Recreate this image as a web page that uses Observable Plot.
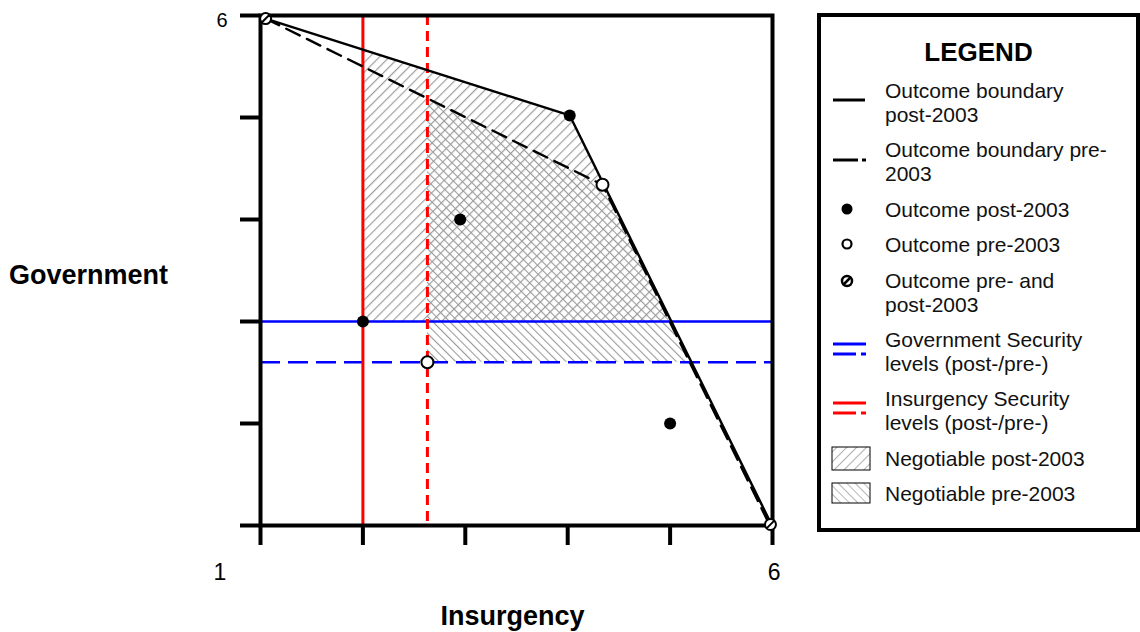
<!DOCTYPE html>
<html>
<head>
<meta charset="utf-8">
<script src="https://cdn.jsdelivr.net/npm/d3@7"></script>
<script src="https://cdn.jsdelivr.net/npm/@observablehq/plot@0.6"></script>
<style>
  html, body { margin: 0; padding: 0; background: white; }
  body { width: 1140px; height: 632px; position: relative; overflow: hidden; font-family: "Liberation Sans", Arial, sans-serif; }
  #chart { position: absolute; left: 0; top: 0; }
  #legend { position: absolute; left: 817px; top: 13px; width: 323px; height: 519px; box-sizing: border-box; border: 4px solid black; background: white; }
  #legend .title { position: absolute; left: 0; width: 100%; top: 20px; text-align: center; font-weight: bold; font-size: 26px; }
  #legend .txt { position: absolute; left: 64px; font-size: 21px; line-height: 23.6px; color: #111; white-space: nowrap; }
  #legend svg.sw { position: absolute; left: 0; top: 0; overflow: visible; }
</style>
</head>
<body>
<div id="chart"></div>
<div id="legend"></div>
<script>
// ---------- data ----------
const xTicks = [1, 2, 3, 4, 5, 6];
const yTicks = [1, 2, 3, 4, 5, 6];
const xTickLabels = ["1", "6"];
const yTickLabels = ["6"];
const xLabel = "Insurgency";
const yLabel = "Government";

// outcome boundaries (Insurgency, Government)
const postBoundaryX = [1.05, 4.02, 5.99];
const postBoundaryY = [5.97, 5.02, 1.01];
const preBoundaryX = [1.05, 4.34, 5.97];
const preBoundaryY = [5.97, 4.34, 1.01];

// outcomes
const postOutcomeX = [2, 2.95, 4.02, 5];
const postOutcomeY = [3, 4.0, 5.02, 2];
const preOutcomeX = [2.63, 4.34];
const preOutcomeY = [2.6, 4.34];
const bothOutcomeX = [1.05, 5.98];
const bothOutcomeY = [5.97, 1.01];

// security levels
const govSecurityPost = 3;
const govSecurityPre = 2.6;
const insSecurityPost = 2;
const insSecurityPre = 2.63;

const legendTitle = "LEGEND";
const legendLabels = [
  ["Outcome boundary", "post-2003"],
  ["Outcome boundary pre-", "2003"],
  ["Outcome post-2003"],
  ["Outcome pre-2003"],
  ["Outcome pre- and", "post-2003"],
  ["Government Security", "levels (post-/pre-)"],
  ["Insurgency Security", "levels (post-/pre-)"],
  ["Negotiable post-2003"],
  ["Negotiable pre-2003"]
];

// ---------- helpers ----------
const zip = (xs, ys) => xs.map((x, i) => ({x, y: ys[i]}));
function yOnBoundary(bx, by, x) {
  for (let i = 0; i < bx.length - 1; i++) {
    if (x >= bx[i] && x <= bx[i + 1]) {
      const t = (x - bx[i]) / (bx[i + 1] - bx[i]);
      return by[i] + t * (by[i + 1] - by[i]);
    }
  }
  return by[by.length - 1];
}
function xOnBoundary(bx, by, y) {
  for (let i = bx.length - 2; i >= 0; i--) {
    const lo = Math.min(by[i], by[i + 1]), hi = Math.max(by[i], by[i + 1]);
    if (y >= lo && y <= hi) {
      const t = (y - by[i]) / (by[i + 1] - by[i]);
      return bx[i] + t * (bx[i + 1] - bx[i]);
    }
  }
  return bx[bx.length - 1];
}
function negotiable(bx, by, xMin, yMin) {
  const xEnd = xOnBoundary(bx, by, yMin);
  const xs = [xMin, ...bx.filter(v => v > xMin && v < xEnd), xEnd];
  return xs.map(x => ({x, y1: yMin, y2: yOnBoundary(bx, by, x)}));
}

const postRegion = negotiable(postBoundaryX, postBoundaryY, insSecurityPost, govSecurityPost);
const preRegion = negotiable(preBoundaryX, preBoundaryY, insSecurityPre, govSecurityPre);

const slashCircle = {
  draw(ctx, size) {
    const r = Math.sqrt(size / Math.PI);
    ctx.moveTo(r, 0);
    ctx.arc(0, 0, r, 0, 2 * Math.PI);
    ctx.moveTo(-r * 0.75, r * 0.75);
    ctx.lineTo(r * 0.75, -r * 0.75);
  }
};

const FONT = "Liberation Sans, Arial, sans-serif";

const plot = Plot.plot({
  width: 800,
  height: 632,
  marginLeft: 260,
  marginRight: 28,
  marginTop: 15,
  marginBottom: 107,
  x: {domain: [1, 6], axis: null},
  y: {domain: [1, 6], axis: null},
  style: {fontFamily: FONT, background: "white", overflow: "visible", color: "black"},
  marks: [
    Plot.areaY(postRegion, {x: "x", y1: "y1", y2: "y2", fill: "url(#hatchPost)", curve: "linear"}),
    Plot.areaY(preRegion, {x: "x", y1: "y1", y2: "y2", fill: "url(#hatchPre)", curve: "linear"}),
    Plot.ruleY([govSecurityPost], {stroke: "#0000ff", strokeWidth: 2.5}),
    Plot.ruleY([govSecurityPre], {stroke: "#0000ff", strokeWidth: 2.5, strokeDasharray: "20,8"}),
    Plot.ruleX([insSecurityPost], {stroke: "#ff0000", strokeWidth: 3}),
    Plot.ruleX([insSecurityPre], {stroke: "#ff0000", strokeWidth: 3, strokeDasharray: "10,6"}),
    Plot.line(zip(postBoundaryX, postBoundaryY), {x: "x", y: "y", stroke: "black", strokeWidth: 2.4}),
    Plot.line(zip(preBoundaryX, preBoundaryY), {x: "x", y: "y", stroke: "black", strokeWidth: 2.4, strokeDasharray: "15,8"}),
    Plot.frame({stroke: "black", strokeWidth: 4}),
    Plot.axisX(xTicks, {tickSize: 20, strokeWidth: 4, stroke: "black", fill: "none", label: null}),
    Plot.axisY(yTicks, {tickSize: 20, strokeWidth: 4, stroke: "black", fill: "none", label: null}),
    Plot.dot(zip(postOutcomeX, postOutcomeY), {x: "x", y: "y", r: 6, fill: "black"}),
    Plot.dot(zip(preOutcomeX, preOutcomeY), {x: "x", y: "y", r: 6, fill: "white", stroke: "black", strokeWidth: 2}),
    Plot.dot(zip(bothOutcomeX, bothOutcomeY), {x: "x", y: "y", r: 5.5, symbol: slashCircle, fill: "white", stroke: "black", strokeWidth: 2}),
    Plot.text([xTickLabels[0]], {text: d => d, frameAnchor: "bottom-left", dx: -47, dy: 54, fontSize: 23, fill: "black"}),
    Plot.text([xTickLabels[1]], {text: d => d, frameAnchor: "bottom-right", dx: 8, dy: 54, fontSize: 23, fill: "black"}),
    Plot.text(yTickLabels, {text: d => d, frameAnchor: "top-left", dx: -44, dy: -3, fontSize: 20, fill: "black"}),
    Plot.text([yLabel], {text: d => d, frameAnchor: "left", textAnchor: "middle", dx: -172, dy: 5, fontSize: 27, fontWeight: "bold", fill: "black"}),
    Plot.text([xLabel], {text: d => d, frameAnchor: "bottom", textAnchor: "middle", dx: -4, dy: 99, fontSize: 27, fontWeight: "bold", fill: "black"})
  ]
});

// hatch patterns
function addPatterns(svgNode) {
  const svg = d3.select(svgNode);
  const defs = svg.insert("defs", ":first-child");
  const p1 = defs.append("pattern").attr("id", "hatchPost").attr("patternUnits", "userSpaceOnUse")
    .attr("width", 7).attr("height", 7).attr("patternTransform", "rotate(45)");
  p1.append("line").attr("x1", 0).attr("y1", 0).attr("x2", 0).attr("y2", 7).attr("stroke", "#9e9e9e").attr("stroke-width", 2.4);
  const p2 = defs.append("pattern").attr("id", "hatchPre").attr("patternUnits", "userSpaceOnUse")
    .attr("width", 6).attr("height", 6).attr("patternTransform", "rotate(-45)");
  p2.append("line").attr("x1", 0).attr("y1", 0).attr("x2", 0).attr("y2", 6).attr("stroke", "#9a9a9a").attr("stroke-width", 2.2);
}
addPatterns(plot);
document.getElementById("chart").appendChild(plot);

// ---------- legend ----------
const legend = d3.select("#legend");
legend.append("div").attr("class", "title").text(legendTitle);
// layout (legend-local, px): top of first text line for each row
const rowTops = [62, 121, 181, 216, 252, 311, 370, 430, 465];
legendLabels.forEach((lines, i) => {
  legend.append("div").attr("class", "txt").style("top", rowTops[i] + "px").html(lines.join("<br>"));
});
const sw = legend.append("svg").attr("class", "sw").attr("width", 60).attr("height", 500);
const ox = -817 - 4, oy = -13 - 4; // page -> legend-local
const L = (x1, y1, x2, y2, stroke, w) => sw.append("line")
  .attr("x1", x1 + ox).attr("y1", y1 + oy).attr("x2", x2 + ox).attr("y2", y2 + oy)
  .attr("stroke", stroke).attr("stroke-width", w);
L(833, 100, 865, 100, "black", 3);
L(833, 160, 858, 160, "black", 3); L(862, 160, 866, 160, "black", 3);
sw.append("circle").attr("cx", 847 + ox).attr("cy", 209 + oy).attr("r", 5.5).attr("fill", "black");
sw.append("circle").attr("cx", 847 + ox).attr("cy", 244 + oy).attr("r", 4.5).attr("fill", "white").attr("stroke", "black").attr("stroke-width", 2.2);
sw.append("circle").attr("cx", 847 + ox).attr("cy", 281 + oy).attr("r", 5).attr("fill", "white").attr("stroke", "black").attr("stroke-width", 2.5);
L(843, 285, 851, 277, "black", 2.5);
L(833, 344, 866, 344, "#0000ff", 3);
L(833, 354, 856, 354, "#0000ff", 3); L(861, 354, 866, 354, "#0000ff", 3);
L(833, 403, 866, 403, "#ff0000", 3);
L(833, 413, 856, 413, "#ff0000", 3); L(861, 413, 866, 413, "#ff0000", 3);
const ldefs = sw.insert("defs", ":first-child");
const q1 = ldefs.append("pattern").attr("id", "hatchPostL").attr("patternUnits", "userSpaceOnUse")
  .attr("width", 7).attr("height", 7).attr("patternTransform", "rotate(45)");
q1.append("line").attr("x1", 0).attr("y1", 0).attr("x2", 0).attr("y2", 7).attr("stroke", "#b0b0b0").attr("stroke-width", 2);
const q2 = ldefs.append("pattern").attr("id", "hatchPreL").attr("patternUnits", "userSpaceOnUse")
  .attr("width", 6).attr("height", 6).attr("patternTransform", "rotate(-45)");
q2.append("line").attr("x1", 0).attr("y1", 0).attr("x2", 0).attr("y2", 6).attr("stroke", "#b0b0b0").attr("stroke-width", 1.8);
sw.append("rect").attr("x", 832 + ox).attr("y", 447 + oy).attr("width", 38).attr("height", 23)
  .attr("fill", "url(#hatchPostL)").attr("stroke", "black").attr("stroke-width", 1);
sw.append("rect").attr("x", 832 + ox).attr("y", 483 + oy).attr("width", 38).attr("height", 20)
  .attr("fill", "url(#hatchPreL)").attr("stroke", "black").attr("stroke-width", 1);
</script>
</body>
</html>
